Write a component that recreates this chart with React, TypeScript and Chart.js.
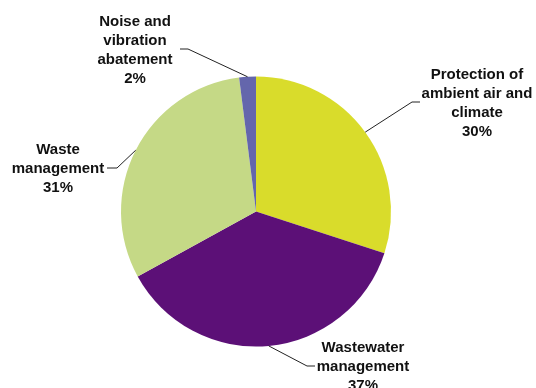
import React, { useEffect, useRef } from "react";
import { Chart, registerables } from "chart.js";

Chart.register(...registerables);

const categories: string[][] = [
  ["Protection of", "ambient air and", "climate"],
  ["Wastewater", "management"],
  ["Waste", "management"],
  ["Noise and", "vibration", "abatement"],
];
const shares: number[] = [30, 37, 31, 2];
const colors: string[] = ["#D9DC2B", "#5C1077", "#C5D986", "#6466AC"];

// label layout: elbow point, end of horizontal tick, text centre x, text block centre y
const labelLayout = [
  { elbow: [412, 102], end: [420, 102], tx: 477, ty: 103.5 },
  { elbow: [307, 366], end: [315, 366], tx: 363, ty: 367 },
  { elbow: [117, 168], end: [107, 168], tx: 58, ty: 168.5 },
  { elbow: [188, 49], end: [180, 49], tx: 135, ty: 50 },
];

const labelPlugin = {
  id: "pieLabels",
  afterDatasetsDraw(chart: any) {
    const ctx = chart.ctx;
    const meta = chart.getDatasetMeta(0);
    const lh = 19;
    meta.data.forEach((arc: any, i: number) => {
      const p = arc.getProps(["x", "y", "outerRadius", "startAngle", "endAngle"], true);
      const mid = (p.startAngle + p.endAngle) / 2;
      const sx = p.x + Math.cos(mid) * p.outerRadius;
      const sy = p.y + Math.sin(mid) * p.outerRadius;
      const L = labelLayout[i];
      ctx.save();
      ctx.strokeStyle = "#222222";
      ctx.lineWidth = 1;
      ctx.beginPath();
      ctx.moveTo(sx, sy);
      ctx.lineTo(L.elbow[0], L.elbow[1]);
      ctx.lineTo(L.end[0], L.end[1]);
      ctx.stroke();
      const lines = [...categories[i], shares[i] + "%"];
      ctx.fillStyle = "#111111";
      ctx.font = "bold 15px 'Liberation Sans', Arial, sans-serif";
      ctx.textAlign = "center";
      ctx.textBaseline = "middle";
      const top = L.ty - ((lines.length - 1) * lh) / 2;
      lines.forEach((t, k) => ctx.fillText(t, L.tx, top + k * lh));
      ctx.restore();
    });
  },
};

export default function App() {
  const ref = useRef<HTMLCanvasElement>(null);
  useEffect(() => {
    if (!ref.current) return;
    const chart = new Chart(ref.current, {
      type: "pie",
      data: {
        labels: categories.map((c) => c.join(" ")),
        datasets: [
          {
            data: shares,
            backgroundColor: colors,
            borderWidth: 0,
          },
        ],
      },
      options: {
        animation: false,
        responsive: false,
        maintainAspectRatio: false,
        layout: { padding: { left: 121, right: 145, top: 76, bottom: 41 } },
        plugins: {
          legend: { display: false },
          tooltip: { enabled: false },
        },
      },
      plugins: [labelPlugin],
    });
    return () => chart.destroy();
  }, []);
  return (
    <div style={{ position: "absolute", left: 0, top: 0, width: 536, height: 388, background: "#fff" }}>
      <canvas ref={ref} width={536} height={388} style={{ width: 536, height: 388 }} />
    </div>
  );
}
